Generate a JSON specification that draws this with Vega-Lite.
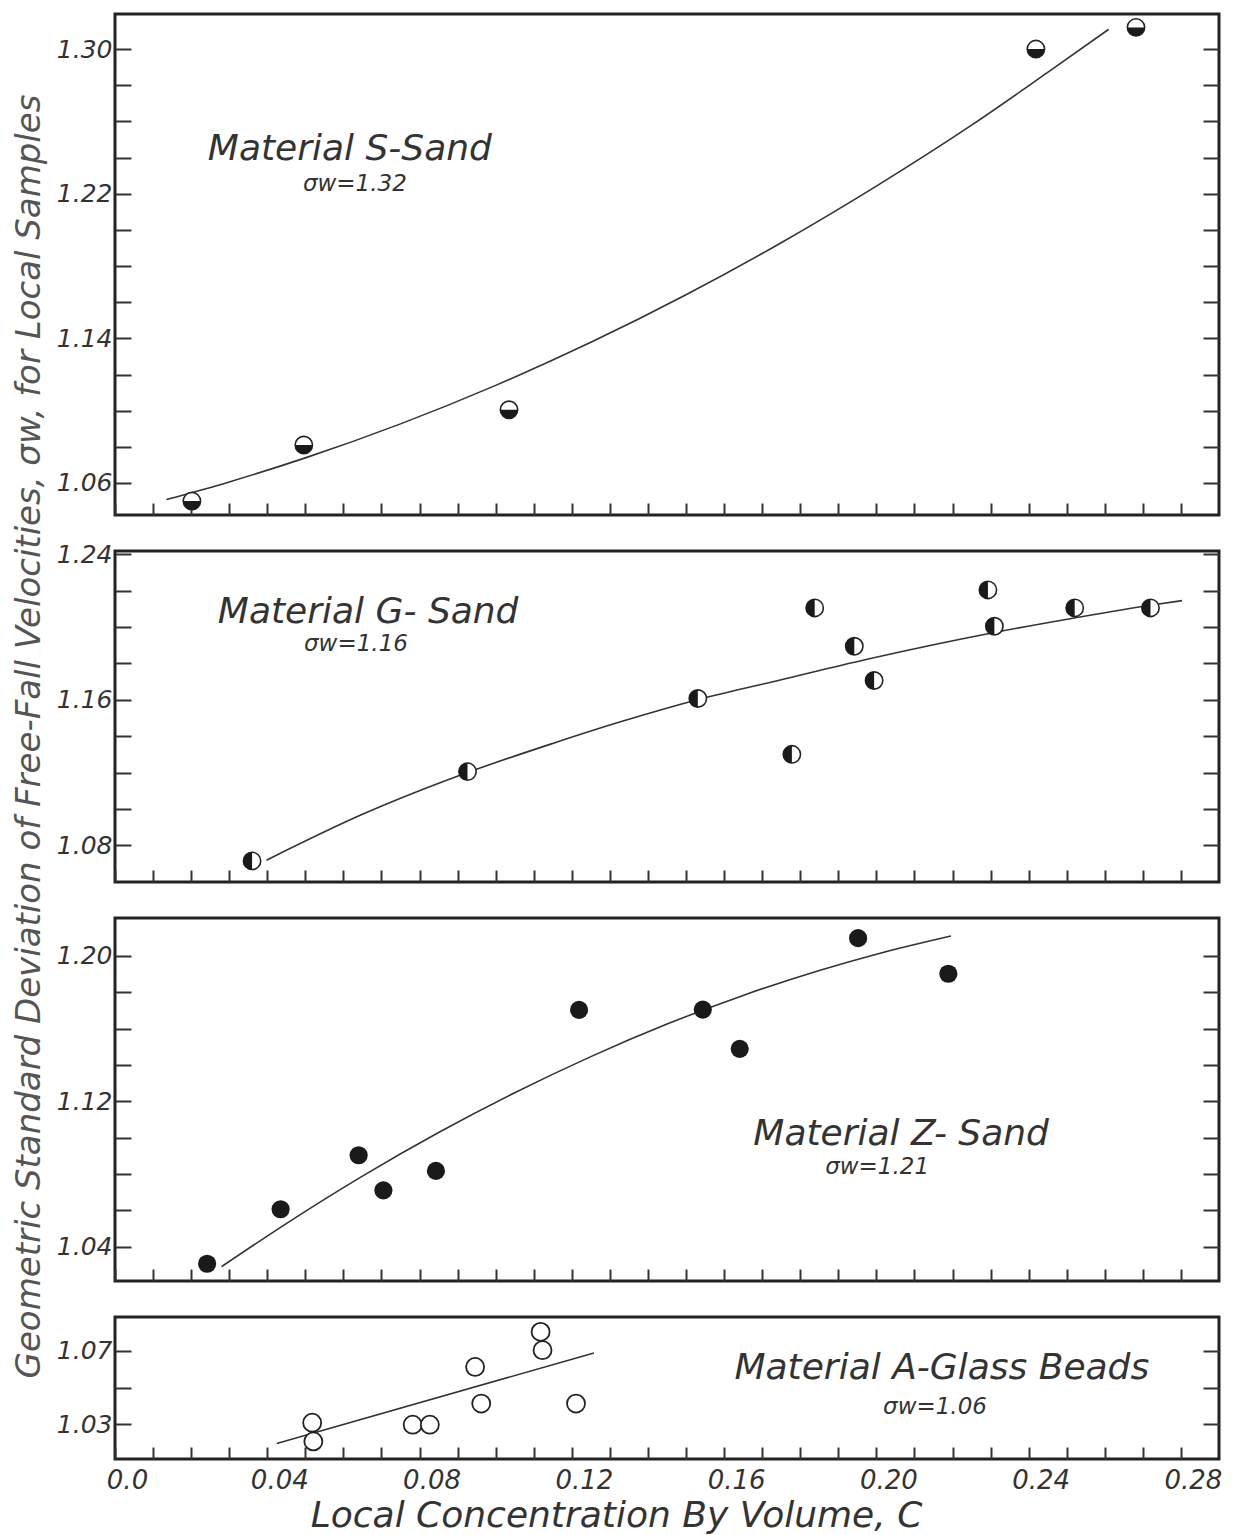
{
  "$schema": "https://vega.github.io/schema/vega-lite/v6.json",
  "background": "white",
  "padding": {"left": 12, "top": 12, "right": 14, "bottom": 4},
  "spacing": 36,
  "bounds": "flush",
  "title": {
    "text": "Geometric Standard Deviation of Free-Fall Velocities, σw, for Local Samples",
    "orient": "left",
    "anchor": "middle",
    "font": "DejaVu Sans",
    "fontStyle": "italic",
    "fontWeight": "normal",
    "fontSize": 34,
    "color": "#555",
    "offset": 8,
    "dx": 37
  },
  "config": {
    "view": {"stroke": "#222", "strokeWidth": 3},
    "font": "DejaVu Sans",
    "axis": {
      "domain": false,
      "grid": false,
      "tickColor": "#333",
      "tickWidth": 2,
      "labelFont": "DejaVu Sans",
      "labelFontStyle": "italic",
      "labelColor": "#333",
      "labelFontSize": 25,
      "labelOverlap": false,
      "labelFlush": false,
      "labelBound": false
    },
    "axisY": {"tickSize": -16, "labelPadding": 19},
    "axisX": {"tickSize": -12, "labelPadding": 20}
  },
  "datasets": {
    "points": [
      {"panel": "S", "c": 0.0202, "sigma": 1.050},
      {"panel": "S", "c": 0.0496, "sigma": 1.081},
      {"panel": "S", "c": 0.1035, "sigma": 1.1005},
      {"panel": "S", "c": 0.2419, "sigma": 1.300},
      {"panel": "S", "c": 0.2682, "sigma": 1.312},
      {"panel": "G", "c": 0.036, "sigma": 1.0714},
      {"panel": "G", "c": 0.0926, "sigma": 1.1205},
      {"panel": "G", "c": 0.1531, "sigma": 1.1607},
      {"panel": "G", "c": 0.1778, "sigma": 1.130},
      {"panel": "G", "c": 0.1838, "sigma": 1.2105},
      {"panel": "G", "c": 0.1942, "sigma": 1.1894},
      {"panel": "G", "c": 0.1994, "sigma": 1.1706},
      {"panel": "G", "c": 0.2293, "sigma": 1.2204},
      {"panel": "G", "c": 0.231, "sigma": 1.2004},
      {"panel": "G", "c": 0.2521, "sigma": 1.2105},
      {"panel": "G", "c": 0.272, "sigma": 1.2105},
      {"panel": "Z", "c": 0.0242, "sigma": 1.0306},
      {"panel": "Z", "c": 0.0435, "sigma": 1.0606},
      {"panel": "Z", "c": 0.064, "sigma": 1.0903},
      {"panel": "Z", "c": 0.0705, "sigma": 1.071},
      {"panel": "Z", "c": 0.0843, "sigma": 1.0817},
      {"panel": "Z", "c": 0.1219, "sigma": 1.1703},
      {"panel": "Z", "c": 0.1544, "sigma": 1.1705},
      {"panel": "Z", "c": 0.1641, "sigma": 1.1489},
      {"panel": "Z", "c": 0.1952, "sigma": 1.2098},
      {"panel": "Z", "c": 0.2189, "sigma": 1.1902},
      {"panel": "A", "c": 0.0518, "sigma": 1.0309},
      {"panel": "A", "c": 0.0521, "sigma": 1.0207},
      {"panel": "A", "c": 0.0782, "sigma": 1.0298},
      {"panel": "A", "c": 0.0827, "sigma": 1.0298},
      {"panel": "A", "c": 0.0946, "sigma": 1.0613},
      {"panel": "A", "c": 0.0962, "sigma": 1.0413},
      {"panel": "A", "c": 0.1118, "sigma": 1.0804},
      {"panel": "A", "c": 0.1123, "sigma": 1.0704},
      {"panel": "A", "c": 0.1211, "sigma": 1.0413}
    ],
    "curves": [
      {"panel": "S", "c": 0.0135, "sigma": 1.0508},
      {"panel": "S", "c": 0.03, "sigma": 1.0606},
      {"panel": "S", "c": 0.05, "sigma": 1.0739},
      {"panel": "S", "c": 0.075, "sigma": 1.0927},
      {"panel": "S", "c": 0.10, "sigma": 1.1140},
      {"panel": "S", "c": 0.125, "sigma": 1.1378},
      {"panel": "S", "c": 0.15, "sigma": 1.1641},
      {"panel": "S", "c": 0.175, "sigma": 1.1929},
      {"panel": "S", "c": 0.20, "sigma": 1.2242},
      {"panel": "S", "c": 0.225, "sigma": 1.2579},
      {"panel": "S", "c": 0.245, "sigma": 1.2871},
      {"panel": "S", "c": 0.261, "sigma": 1.3109},
      {"panel": "G", "c": 0.0398, "sigma": 1.0718},
      {"panel": "G", "c": 0.065, "sigma": 1.097},
      {"panel": "G", "c": 0.0926, "sigma": 1.120},
      {"panel": "G", "c": 0.115, "sigma": 1.136},
      {"panel": "G", "c": 0.133, "sigma": 1.148},
      {"panel": "G", "c": 0.153, "sigma": 1.160},
      {"panel": "G", "c": 0.175, "sigma": 1.171},
      {"panel": "G", "c": 0.197, "sigma": 1.182},
      {"panel": "G", "c": 0.231, "sigma": 1.197},
      {"panel": "G", "c": 0.252, "sigma": 1.205},
      {"panel": "G", "c": 0.272, "sigma": 1.212},
      {"panel": "G", "c": 0.2803, "sigma": 1.2145},
      {"panel": "Z", "c": 0.028, "sigma": 1.029},
      {"panel": "Z", "c": 0.045, "sigma": 1.0527},
      {"panel": "Z", "c": 0.065, "sigma": 1.0788},
      {"panel": "Z", "c": 0.085, "sigma": 1.1028},
      {"panel": "Z", "c": 0.105, "sigma": 1.1247},
      {"panel": "Z", "c": 0.125, "sigma": 1.1446},
      {"panel": "Z", "c": 0.145, "sigma": 1.1625},
      {"panel": "Z", "c": 0.165, "sigma": 1.1783},
      {"panel": "Z", "c": 0.185, "sigma": 1.1920},
      {"panel": "Z", "c": 0.20, "sigma": 1.2010},
      {"panel": "Z", "c": 0.2196, "sigma": 1.211},
      {"panel": "A", "c": 0.0425, "sigma": 1.0195},
      {"panel": "A", "c": 0.1258, "sigma": 1.0689}
    ],
    "notes": [
      {"panel": "S", "c": 0.0617, "sigma": 1.2447, "label": "Material S-Sand", "kind": "name"},
      {"panel": "S", "c": 0.063, "sigma": 1.2253, "label": "σw=1.32", "kind": "sigma"},
      {"panel": "G", "c": 0.0665, "sigma": 1.2081, "label": "Material G- Sand", "kind": "name"},
      {"panel": "G", "c": 0.0633, "sigma": 1.1905, "label": "σw=1.16", "kind": "sigma"},
      {"panel": "Z", "c": 0.2065, "sigma": 1.102, "label": "Material Z- Sand", "kind": "name"},
      {"panel": "Z", "c": 0.2002, "sigma": 1.0839, "label": "σw=1.21", "kind": "sigma"},
      {"panel": "A", "c": 0.2172, "sigma": 1.0607, "label": "Material A-Glass Beads", "kind": "name"},
      {"panel": "A", "c": 0.2154, "sigma": 1.0395, "label": "σw=1.06", "kind": "sigma"}
    ]
  },
  "vconcat": [
    {
      "width": 1104,
      "height": 501,
      "encoding": {
        "x": {"field": "c", "type": "quantitative", "scale": {"domain": [0, 0.29], "nice": false, "zero": false},
              "axis": {"values": [0,0.01,0.02,0.03,0.04,0.05,0.06,0.07,0.08,0.09,0.1,0.11,0.12,0.13,0.14,0.15,0.16,0.17,0.18,0.19,0.2,0.21,0.22,0.23,0.24,0.25,0.26,0.27,0.28], "labels": false, "title": null}}
      },
      "layer": [
        {
          "data": {"name": "curves"},
          "transform": [{"filter": "datum.panel == 'S'"}],
          "mark": {"type": "line", "interpolate": "monotone", "color": "#333", "strokeWidth": 1.6},
          "encoding": {
            "y": {"field": "sigma", "type": "quantitative", "scale": {"domain": [1.0423, 1.3194], "nice": false, "zero": false},
                  "axis": {"orient": "right", "values": [1.06,1.08,1.1,1.12,1.14,1.16,1.18,1.2,1.22,1.24,1.26,1.28,1.3], "labels": false, "title": null}}
          }
        },
        {
          "data": {"name": "points"},
          "transform": [{"filter": "datum.panel == 'S'"}],
          "mark": {"type": "point", "shape": "circle", "filled": true, "fill": "white", "stroke": "#222", "strokeWidth": 1.6, "size": 300, "opacity": 1},
          "encoding": {
            "y": {"field": "sigma", "type": "quantitative",
                  "axis": {"orient": "left", "values": [1.06,1.08,1.1,1.12,1.14,1.16,1.18,1.2,1.22,1.24,1.26,1.28,1.3], "labelExpr": "round(datum.value*100) % 8 == 2 ? format(datum.value, '.2f') : ''", "title": null}}
          }
        },
        {
          "data": {"name": "points"},
          "transform": [{"filter": "datum.panel == 'S'"}],
          "mark": {"type": "point", "shape": "M-1,0A1,1,0,0,0,1,0Z", "filled": true, "fill": "#1a1a1a", "strokeWidth": 0, "size": 300, "opacity": 1},
          "encoding": {
            "y": {"field": "sigma", "type": "quantitative", "axis": null}
          }
        },
        {
          "data": {"name": "notes"},
          "transform": [{"filter": "datum.panel == 'S'"}],
          "mark": {"type": "text", "font": "DejaVu Sans", "fontStyle": "italic", "color": "#333"},
          "encoding": {
            "y": {"field": "sigma", "type": "quantitative", "axis": null},
            "text": {"field": "label"},
            "size": {"field": "kind", "type": "ordinal", "scale": {"domain": ["name", "sigma"], "range": [36, 23]}, "legend": null}
          }
        }
      ],
      "resolve": {"axis": {"y": "independent"}}
    },
    {
      "width": 1104,
      "height": 331,
      "encoding": {
        "x": {"field": "c", "type": "quantitative", "scale": {"domain": [0, 0.29], "nice": false, "zero": false},
              "axis": {"values": [0,0.01,0.02,0.03,0.04,0.05,0.06,0.07,0.08,0.09,0.1,0.11,0.12,0.13,0.14,0.15,0.16,0.17,0.18,0.19,0.2,0.21,0.22,0.23,0.24,0.25,0.26,0.27,0.28], "labels": false, "title": null}}
      },
      "layer": [
        {
          "data": {"name": "curves"},
          "transform": [{"filter": "datum.panel == 'G'"}],
          "mark": {"type": "line", "interpolate": "monotone", "color": "#333", "strokeWidth": 1.6},
          "encoding": {
            "y": {"field": "sigma", "type": "quantitative", "scale": {"domain": [1.0598, 1.2418], "nice": false, "zero": false},
                  "axis": {"orient": "right", "values": [1.08,1.1,1.12,1.14,1.16,1.18,1.2,1.22,1.24], "labels": false, "title": null}}
          }
        },
        {
          "data": {"name": "points"},
          "transform": [{"filter": "datum.panel == 'G'"}],
          "mark": {"type": "point", "shape": "circle", "filled": true, "fill": "white", "stroke": "#222", "strokeWidth": 1.6, "size": 300, "opacity": 1},
          "encoding": {
            "y": {"field": "sigma", "type": "quantitative",
                  "axis": {"orient": "left", "values": [1.08,1.1,1.12,1.14,1.16,1.18,1.2,1.22,1.24], "labelExpr": "round(datum.value*100) % 8 == 4 ? format(datum.value, '.2f') : ''", "title": null}}
          }
        },
        {
          "data": {"name": "points"},
          "transform": [{"filter": "datum.panel == 'G'"}],
          "mark": {"type": "point", "shape": "M0,-1A1,1,0,0,0,0,1Z", "filled": true, "fill": "#1a1a1a", "strokeWidth": 0, "size": 300, "opacity": 1},
          "encoding": {
            "y": {"field": "sigma", "type": "quantitative", "axis": null}
          }
        },
        {
          "data": {"name": "notes"},
          "transform": [{"filter": "datum.panel == 'G'"}],
          "mark": {"type": "text", "font": "DejaVu Sans", "fontStyle": "italic", "color": "#333"},
          "encoding": {
            "y": {"field": "sigma", "type": "quantitative", "axis": null},
            "text": {"field": "label"},
            "size": {"field": "kind", "type": "ordinal", "scale": {"domain": ["name", "sigma"], "range": [36, 23]}, "legend": null}
          }
        }
      ],
      "resolve": {"axis": {"y": "independent"}}
    },
    {
      "width": 1104,
      "height": 363,
      "encoding": {
        "x": {"field": "c", "type": "quantitative", "scale": {"domain": [0, 0.29], "nice": false, "zero": false},
              "axis": {"values": [0,0.01,0.02,0.03,0.04,0.05,0.06,0.07,0.08,0.09,0.1,0.11,0.12,0.13,0.14,0.15,0.16,0.17,0.18,0.19,0.2,0.21,0.22,0.23,0.24,0.25,0.26,0.27,0.28], "labels": false, "title": null}}
      },
      "layer": [
        {
          "data": {"name": "curves"},
          "transform": [{"filter": "datum.panel == 'Z'"}],
          "mark": {"type": "line", "interpolate": "monotone", "color": "#333", "strokeWidth": 1.6},
          "encoding": {
            "y": {"field": "sigma", "type": "quantitative", "scale": {"domain": [1.0211, 1.2209], "nice": false, "zero": false},
                  "axis": {"orient": "right", "values": [1.04,1.06,1.08,1.1,1.12,1.14,1.16,1.18,1.2], "labels": false, "title": null}}
          }
        },
        {
          "data": {"name": "points"},
          "transform": [{"filter": "datum.panel == 'Z'"}],
          "mark": {"type": "point", "shape": "circle", "filled": true, "fill": "#1a1a1a", "strokeWidth": 0, "size": 330, "opacity": 1},
          "encoding": {
            "y": {"field": "sigma", "type": "quantitative",
                  "axis": {"orient": "left", "values": [1.04,1.06,1.08,1.1,1.12,1.14,1.16,1.18,1.2], "labelExpr": "round(datum.value*100) % 8 == 0 ? format(datum.value, '.2f') : ''", "title": null}}
          }
        },
        {
          "data": {"name": "notes"},
          "transform": [{"filter": "datum.panel == 'Z'"}],
          "mark": {"type": "text", "font": "DejaVu Sans", "fontStyle": "italic", "color": "#333"},
          "encoding": {
            "y": {"field": "sigma", "type": "quantitative", "axis": null},
            "text": {"field": "label"},
            "size": {"field": "kind", "type": "ordinal", "scale": {"domain": ["name", "sigma"], "range": [36, 23]}, "legend": null}
          }
        }
      ],
      "resolve": {"axis": {"y": "independent"}}
    },
    {
      "width": 1104,
      "height": 142,
      "encoding": {
        "x": {"field": "c", "type": "quantitative", "scale": {"domain": [0, 0.29], "nice": false, "zero": false},
              "axis": {"values": [0,0.01,0.02,0.03,0.04,0.05,0.06,0.07,0.08,0.09,0.1,0.11,0.12,0.13,0.14,0.15,0.16,0.17,0.18,0.19,0.2,0.21,0.22,0.23,0.24,0.25,0.26,0.27,0.28],
                       "labelExpr": "round(datum.value*100) % 4 == 0 ? (datum.value == 0 ? '0.0' : format(datum.value, '.2f')) : ''",
                       "labelFontSize": 26, "labelOffset": 12,
                       "title": "Local Concentration By Volume, C",
                       "titleFont": "DejaVu Sans", "titleFontStyle": "italic", "titleFontWeight": "normal",
                       "titleFontSize": 36, "titleColor": "#333", "titlePadding": 5, "titleX": 501}}
      },
      "layer": [
        {
          "data": {"name": "curves"},
          "transform": [{"filter": "datum.panel == 'A'"}],
          "mark": {"type": "line", "color": "#333", "strokeWidth": 1.6},
          "encoding": {
            "y": {"field": "sigma", "type": "quantitative", "scale": {"domain": [1.0111, 1.0885], "nice": false, "zero": false},
                  "axis": {"orient": "right", "values": [1.03,1.05,1.07], "labels": false, "title": null}}
          }
        },
        {
          "data": {"name": "points"},
          "transform": [{"filter": "datum.panel == 'A'"}],
          "mark": {"type": "point", "shape": "circle", "filled": true, "fill": "white", "stroke": "#222", "strokeWidth": 1.8, "size": 324, "opacity": 1},
          "encoding": {
            "y": {"field": "sigma", "type": "quantitative",
                  "axis": {"orient": "left", "values": [1.03,1.05,1.07], "labelExpr": "round(datum.value*100) % 4 == 3 ? format(datum.value, '.2f') : ''", "title": null}}
          }
        },
        {
          "data": {"name": "notes"},
          "transform": [{"filter": "datum.panel == 'A'"}],
          "mark": {"type": "text", "font": "DejaVu Sans", "fontStyle": "italic", "color": "#333"},
          "encoding": {
            "y": {"field": "sigma", "type": "quantitative", "axis": null},
            "text": {"field": "label"},
            "size": {"field": "kind", "type": "ordinal", "scale": {"domain": ["name", "sigma"], "range": [36, 23]}, "legend": null}
          }
        }
      ],
      "resolve": {"axis": {"y": "independent"}}
    }
  ]
}
